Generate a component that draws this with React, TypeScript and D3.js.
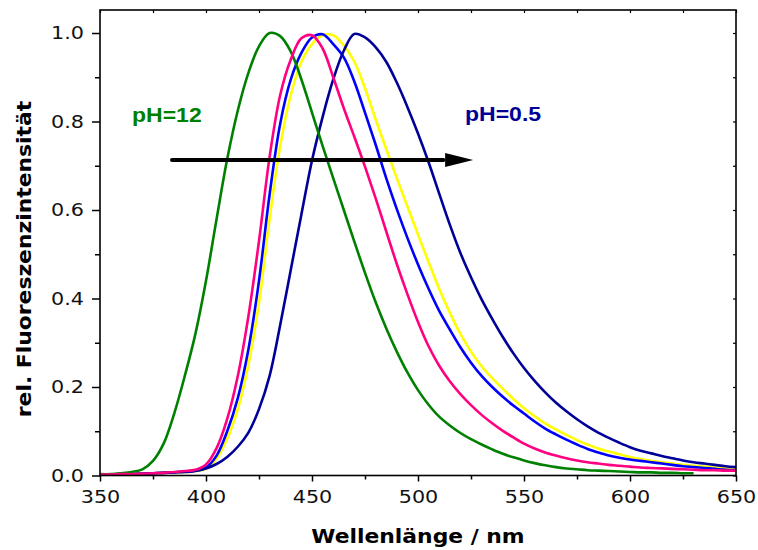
import React, { useEffect, useRef } from 'react';
import * as d3 from 'd3';

// wavelengths in nm (5 nm grid)
const wavelengths = [
  350, 355, 360, 365, 370, 375, 380, 385, 390, 395,
  400, 405, 410, 415, 420, 425, 430, 435, 440, 445,
  450, 455, 460, 465, 470, 475, 480, 485, 490, 495,
  500, 505, 510, 515, 520, 525, 530, 535, 540, 545,
  550, 555, 560, 565, 570, 575, 580, 585, 590, 595,
  600, 605, 610, 615, 620, 625, 630, 635, 640, 645,
  650,
];

// pH=12, recorded only up to 630 nm
const greenValues = [
  0.003, 0.003, 0.005, 0.008, 0.014, 0.033, 0.072, 0.14, 0.225, 0.32,
  0.44, 0.58, 0.715, 0.825, 0.91, 0.97, 1.0, 0.993, 0.958, 0.895,
  0.82, 0.745, 0.672, 0.6, 0.528, 0.458, 0.392, 0.333, 0.28, 0.233,
  0.193, 0.16, 0.133, 0.113, 0.096, 0.082, 0.07, 0.059, 0.049, 0.041,
  0.034, 0.028, 0.023, 0.019, 0.016, 0.014, 0.012, 0.011, 0.01, 0.009,
  0.008, 0.007, 0.007, 0.006, 0.006, 0.005, 0.005,
];

const magentaValues = [
  0.002, 0.002, 0.003, 0.003, 0.004, 0.005, 0.006, 0.008, 0.01, 0.013,
  0.025, 0.062, 0.128, 0.225, 0.36, 0.53, 0.72, 0.86, 0.94, 0.988,
  0.995, 0.965, 0.9, 0.83, 0.765, 0.698, 0.627, 0.552, 0.478, 0.41,
  0.347, 0.292, 0.248, 0.213, 0.184, 0.159, 0.137, 0.118, 0.101, 0.086,
  0.072, 0.061, 0.052, 0.045, 0.039, 0.034, 0.03, 0.027, 0.024, 0.022,
  0.02, 0.018, 0.017, 0.016, 0.015, 0.014, 0.013, 0.012, 0.012, 0.011,
  0.011,
];

const blueValues = [
  0.002, 0.002, 0.003, 0.003, 0.004, 0.005, 0.006, 0.007, 0.009, 0.011,
  0.018, 0.045, 0.1, 0.175, 0.285, 0.44, 0.635, 0.795, 0.895, 0.955,
  0.99, 0.997, 0.975, 0.945, 0.89, 0.82, 0.748, 0.672, 0.602, 0.537,
  0.477, 0.422, 0.372, 0.33, 0.29, 0.255, 0.225, 0.2, 0.178, 0.158,
  0.14, 0.122, 0.106, 0.093, 0.081, 0.07, 0.06, 0.052, 0.045, 0.04,
  0.036, 0.033, 0.03, 0.027, 0.024, 0.021, 0.019, 0.017, 0.015, 0.013,
  0.012,
];

const yellowValues = [
  0.002, 0.002, 0.003, 0.003, 0.004, 0.005, 0.006, 0.007, 0.008, 0.01,
  0.015, 0.038, 0.083, 0.15, 0.25, 0.39, 0.58, 0.745, 0.86, 0.935,
  0.975, 0.995, 0.995, 0.972, 0.935, 0.875, 0.805, 0.738, 0.672, 0.608,
  0.545, 0.482, 0.422, 0.368, 0.32, 0.28, 0.247, 0.22, 0.196, 0.173,
  0.152, 0.134, 0.118, 0.104, 0.092, 0.08, 0.07, 0.061, 0.054, 0.048,
  0.042, 0.037, 0.033, 0.03, 0.027, 0.024, 0.022, 0.02, 0.018, 0.016,
  0.015,
];

// pH=0.5
const navyValues = [
  0.002, 0.002, 0.003, 0.003, 0.004, 0.005, 0.006, 0.007, 0.008, 0.01,
  0.016, 0.026, 0.042, 0.065, 0.097, 0.15, 0.225, 0.34, 0.465, 0.59,
  0.712, 0.81, 0.895, 0.96, 0.998, 0.99, 0.968, 0.935, 0.888, 0.833,
  0.773, 0.708, 0.637, 0.567, 0.503, 0.448, 0.398, 0.354, 0.313, 0.276,
  0.243, 0.214, 0.188, 0.165, 0.145, 0.127, 0.111, 0.097, 0.085, 0.074,
  0.064, 0.056, 0.05, 0.044, 0.039, 0.034, 0.03, 0.027, 0.024, 0.021,
  0.019,
];

const xTicks = [350, 400, 450, 500, 550, 600, 650];
const xMinorTicks = [375, 425, 475, 525, 575, 625];
const yTicks = [0.0, 0.2, 0.4, 0.6, 0.8, 1.0];
const yMinorTicks = [0.1, 0.3, 0.5, 0.7, 0.9];

// draw order: later ones on top
const series = [
  { name: 'yellow', values: yellowValues, color: '#ffff00' },
  { name: 'blue', values: blueValues, color: '#0000ff' },
  { name: 'navy', values: navyValues, color: '#000099' },
  { name: 'green', values: greenValues, color: '#008000' },
  { name: 'magenta', values: magentaValues, color: '#ff0080' },
];

const width = 758;
const height = 550;
const stretch = 1.15; // glyphs in the original are a bit wider

function App() {
  const svgRef = useRef(null);

  useEffect(() => {
    const svg = d3.select(svgRef.current);
    svg.selectAll('*').remove();

    const left = 100, right = 736, top = 10, bottom = 475.5;

    const x = d3.scaleLinear().domain([350, 650]).range([left, right]);
    const y = d3.scaleLinear().domain([0, 1.052]).range([bottom, top]);

    const line = d3.line()
      .x(d => x(d[0]))
      .y(d => y(d[1]))
      .curve(d3.curveCatmullRom.alpha(0.5));

    series.forEach(s => {
      const pts = s.values.map((v, i) => [wavelengths[i], v]);
      svg.append('path')
        .attr('d', line(pts))
        .attr('fill', 'none')
        .attr('stroke', s.color)
        .attr('stroke-width', 2.6)
        .attr('stroke-linejoin', 'round');
    });

    const tickFont = (g) => g.selectAll('text')
      .style('font-family', '"DejaVu Sans", Verdana, sans-serif')
      .style('font-size', '18px')
      .attr('fill', '#111');

    // bottom axis
    const gx = svg.append('g')
      .attr('transform', `translate(0,${bottom})`)
      .call(d3.axisBottom(x).tickValues(xTicks).tickSize(6).tickPadding(9).tickFormat(d3.format('d')));
    gx.select('.domain').remove();
    tickFont(gx);
    gx.selectAll('line').attr('stroke-width', 1.5);

    svg.append('g')
      .attr('transform', `translate(0,${bottom})`)
      .call(d3.axisBottom(x).tickValues(xMinorTicks).tickSize(4).tickFormat(() => ''))
      .call(g => g.select('.domain').remove())
      .selectAll('line').attr('stroke-width', 1.5);

    // left axis
    const gy = svg.append('g')
      .attr('transform', `translate(${left},0)`)
      .call(d3.axisLeft(y).tickValues(yTicks).tickSize(8).tickPadding(8).tickFormat(d3.format('.1f')));
    gy.select('.domain').remove();
    tickFont(gy);
    gy.selectAll('line').attr('stroke-width', 1.5);

    svg.append('g')
      .attr('transform', `translate(${left},0)`)
      .call(d3.axisLeft(y).tickValues(yMinorTicks).tickSize(5).tickFormat(() => ''))
      .call(g => g.select('.domain').remove())
      .selectAll('line').attr('stroke-width', 1.5);

    // small inward ticks on top and right
    svg.append('g')
      .attr('transform', `translate(0,${top})`)
      .call(d3.axisTop(x).tickValues(xTicks.concat(xMinorTicks)).tickSize(-3).tickFormat(() => ''))
      .call(g => g.select('.domain').remove())
      .selectAll('line').attr('stroke-width', 1.2);

    svg.append('g')
      .attr('transform', `translate(${right},0)`)
      .call(d3.axisRight(y).tickValues(yTicks.concat(yMinorTicks)).tickSize(-3).tickFormat(() => ''))
      .call(g => g.select('.domain').remove())
      .selectAll('line').attr('stroke-width', 1.2);

    // frame
    svg.append('rect')
      .attr('x', left).attr('y', top)
      .attr('width', right - left).attr('height', bottom - top)
      .attr('fill', 'none').attr('stroke', '#000').attr('stroke-width', 1.6);

    // arrow
    const ay = y(0.713);
    svg.append('line')
      .attr('x1', x(384)).attr('x2', x(512))
      .attr('y1', ay).attr('y2', ay)
      .attr('stroke', '#000').attr('stroke-width', 4.2)
      .attr('stroke-linecap', 'round');
    const tip = x(526);
    svg.append('path')
      .attr('d', `M${tip},${ay} L${tip - 28},${ay - 7} L${tip - 28},${ay + 7} Z`)
      .attr('fill', '#000');

    // annotations
    svg.append('text')
      .attr('x', 132).attr('y', 122)
      .style('font-family', '"Liberation Sans", Arial, sans-serif')
      .style('font-weight', 'bold').style('font-size', '20px')
      .attr('fill', '#008000')
      .text('pH=12');

    svg.append('text')
      .attr('x', 465).attr('y', 121)
      .style('font-family', '"Liberation Sans", Arial, sans-serif')
      .style('font-weight', 'bold').style('font-size', '20px')
      .attr('fill', '#000099')
      .text('pH=0.5');

    // axis titles
    svg.append('text')
      .attr('x', (left + right) / 2).attr('y', 543)
      .attr('text-anchor', 'middle')
      .style('font-family', '"DejaVu Sans", Verdana, sans-serif')
      .style('font-weight', 'bold').style('font-size', '19px')
      .text('Wellenlänge / nm');

    svg.append('text')
      .attr('transform', `translate(31,259) rotate(-90)`)
      .attr('text-anchor', 'middle')
      .style('font-family', '"DejaVu Sans", Verdana, sans-serif')
      .style('font-weight', 'bold').style('font-size', '19px')
      .text('rel. Fluoreszenzintensität');

    // widen glyphs to match the original
    svg.selectAll('text').each(function () {
      const node = this;
      const w = node.getComputedTextLength();
      if (w > 0) {
        d3.select(node)
          .attr('textLength', w * stretch)
          .attr('lengthAdjust', 'spacingAndGlyphs');
      }
    });
  }, []);

  return (
    <svg
      ref={svgRef}
      width={width}
      height={height}
      style={{ position: 'absolute', left: 0, top: 0, background: '#fff' }}
    ></svg>
  );
}

export default App;
